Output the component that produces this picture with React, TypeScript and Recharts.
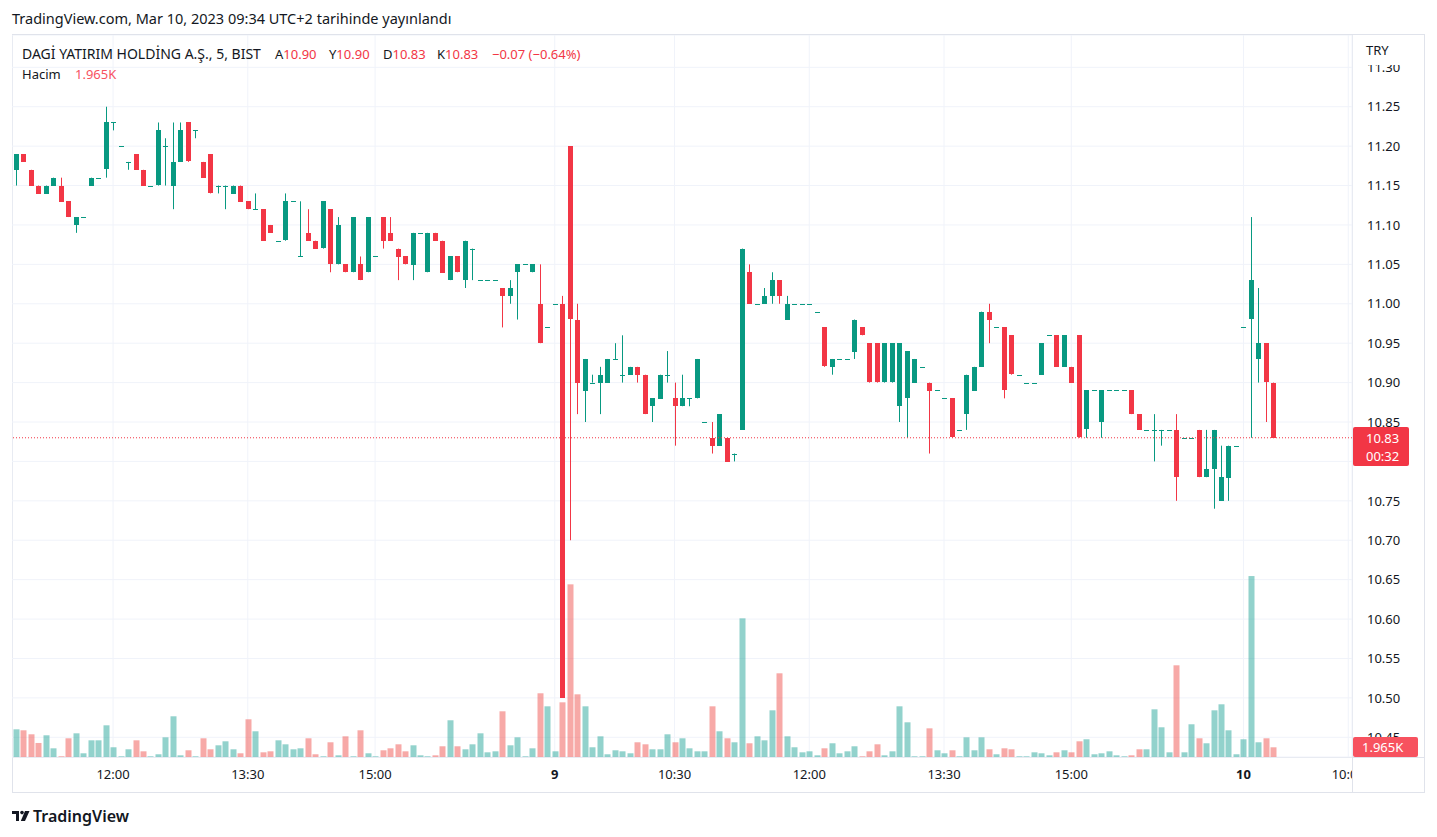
import React from 'react'
import { Bar, CartesianGrid, ComposedChart, ReferenceLine, XAxis, YAxis } from 'recharts'

// 5 dakikalik DAGI mumlari (8-10 Mart 2023)
const opens = [
  11.17, 11.19, 11.17, 11.15, 11.14, 11.15, 11.15, 11.13, 11.10, 11.11,
  11.15, 11.16, 11.17, 11.23, 11.20, 11.18, 11.19, 11.17, 11.15, 11.15,
  11.20, 11.15, 11.18, 11.23, 11.22, 11.18, 11.19, 11.15, 11.15, 11.14,
  11.15, 11.13, 11.12, 11.12, 11.10, 11.08, 11.08, 11.13, 11.06, 11.09,
  11.08, 11.07, 11.12, 11.05, 11.05, 11.04, 11.05, 11.04, 11.06, 11.11,
  11.09, 11.07, 11.06, 11.05, 11.09, 11.04, 11.09, 11.08, 11.03, 11.06,
  11.03, 11.07, 11.03, 11.03, 11.03, 11.02, 11.01, 11.04, 11.05, 11.04,
  11.00, 10.97, 11.00, 11.00, 11.20, 10.98, 10.89, 10.90, 10.90, 10.90,
  10.93, 10.91, 10.91, 10.92, 10.91, 10.87, 10.88, 10.91, 10.88, 10.87,
  10.88, 10.88, 10.85, 10.83, 10.82, 10.83, 10.81, 10.84, 11.04, 11.00,
  11.00, 11.01, 11.03, 10.98, 11.00, 11.00, 11.00, 10.99, 10.97, 10.92,
  10.93, 10.93, 10.94, 10.97, 10.95, 10.95, 10.90, 10.90, 10.87, 10.88,
  10.90, 10.92, 10.90, 10.89, 10.88, 10.88, 10.84, 10.86, 10.89, 10.92,
  10.99, 10.97, 10.97, 10.96, 10.91, 10.90, 10.90, 10.91, 10.96, 10.96,
  10.92, 10.92, 10.96, 10.84, 10.89, 10.85, 10.89, 10.89, 10.89, 10.89,
  10.86, 10.84, 10.84, 10.84, 10.84, 10.84, 10.83, 10.83, 10.84, 10.78,
  10.79, 10.75, 10.78, 10.82, 10.97, 10.98, 10.93, 10.95, 10.90,
]
const highs = [
  11.19, 11.19, 11.17, 11.15, 11.15, 11.16, 11.16, 11.13, 11.11, 11.11,
  11.16, 11.16, 11.25, 11.23, 11.20, 11.18, 11.19, 11.17, 11.15, 11.23,
  11.21, 11.23, 11.23, 11.23, 11.22, 11.18, 11.19, 11.15, 11.15, 11.15,
  11.15, 11.13, 11.14, 11.12, 11.10, 11.08, 11.14, 11.13, 11.13, 11.12,
  11.08, 11.13, 11.12, 11.11, 11.05, 11.11, 11.06, 11.11, 11.06, 11.11,
  11.11, 11.07, 11.06, 11.09, 11.09, 11.09, 11.09, 11.08, 11.06, 11.06,
  11.08, 11.07, 11.03, 11.03, 11.03, 11.02, 11.03, 11.05, 11.05, 11.05,
  11.05, 10.97, 11.00, 11.01, 11.20, 11.00, 10.93, 10.91, 10.92, 10.93,
  10.95, 10.96, 10.92, 10.92, 10.91, 10.88, 10.91, 10.94, 10.90, 10.91,
  10.88, 10.93, 10.85, 10.85, 10.86, 10.83, 10.81, 11.07, 11.05, 11.00,
  11.02, 11.04, 11.03, 11.01, 11.00, 11.00, 11.00, 10.99, 10.97, 10.93,
  10.93, 10.93, 10.98, 10.97, 10.95, 10.95, 10.95, 10.95, 10.95, 10.94,
  10.93, 10.92, 10.90, 10.89, 10.88, 10.88, 10.84, 10.91, 10.92, 10.99,
  11.00, 10.97, 10.97, 10.96, 10.91, 10.90, 10.90, 10.95, 10.96, 10.96,
  10.96, 10.92, 10.96, 10.89, 10.89, 10.89, 10.89, 10.89, 10.89, 10.89,
  10.86, 10.84, 10.86, 10.84, 10.84, 10.86, 10.83, 10.83, 10.84, 10.84,
  10.84, 10.82, 10.82, 10.82, 10.97, 11.11, 11.02, 10.95, 10.90,
]
const lows = [
  11.15, 11.18, 11.15, 11.14, 11.14, 11.15, 11.13, 11.11, 11.09, 11.11,
  11.15, 11.16, 11.16, 11.22, 11.20, 11.17, 11.17, 11.15, 11.15, 11.15,
  11.15, 11.12, 11.18, 11.18, 11.21, 11.16, 11.14, 11.14, 11.12, 11.14,
  11.13, 11.12, 11.12, 11.08, 11.09, 11.08, 11.08, 11.13, 11.06, 11.08,
  11.07, 11.07, 11.04, 11.05, 11.04, 11.04, 11.03, 11.04, 11.06, 11.07,
  11.08, 11.03, 11.05, 11.03, 11.09, 11.04, 11.08, 11.04, 11.03, 11.04,
  11.02, 11.03, 11.03, 11.03, 11.03, 10.97, 11.00, 10.98, 11.05, 11.04,
  10.95, 10.97, 11.00, 10.50, 10.70, 10.86, 10.85, 10.90, 10.86, 10.90,
  10.93, 10.90, 10.91, 10.90, 10.86, 10.85, 10.88, 10.90, 10.82, 10.87,
  10.87, 10.88, 10.85, 10.81, 10.82, 10.80, 10.80, 10.84, 11.00, 11.00,
  11.00, 11.00, 11.00, 10.98, 11.00, 11.00, 11.00, 10.99, 10.92, 10.91,
  10.93, 10.93, 10.93, 10.96, 10.90, 10.90, 10.90, 10.90, 10.85, 10.83,
  10.90, 10.92, 10.81, 10.89, 10.88, 10.83, 10.84, 10.84, 10.89, 10.92,
  10.95, 10.97, 10.88, 10.91, 10.91, 10.90, 10.90, 10.91, 10.96, 10.92,
  10.92, 10.90, 10.83, 10.83, 10.89, 10.83, 10.89, 10.89, 10.89, 10.86,
  10.84, 10.84, 10.80, 10.82, 10.84, 10.75, 10.83, 10.83, 10.78, 10.78,
  10.74, 10.75, 10.75, 10.82, 10.97, 10.83, 10.90, 10.85, 10.83,
]
const closes = [
  11.19, 11.18, 11.15, 11.14, 11.15, 11.16, 11.13, 11.11, 11.11, 11.11,
  11.16, 11.16, 11.23, 11.23, 11.20, 11.18, 11.17, 11.15, 11.15, 11.22,
  11.20, 11.18, 11.22, 11.18, 11.22, 11.16, 11.14, 11.15, 11.15, 11.15,
  11.13, 11.12, 11.12, 11.08, 11.09, 11.08, 11.13, 11.13, 11.06, 11.08,
  11.07, 11.13, 11.05, 11.10, 11.04, 11.11, 11.03, 11.11, 11.06, 11.08,
  11.08, 11.06, 11.05, 11.09, 11.09, 11.09, 11.08, 11.04, 11.06, 11.04,
  11.08, 11.07, 11.03, 11.03, 11.03, 11.01, 11.02, 11.05, 11.05, 11.05,
  10.95, 10.97, 11.00, 10.50, 10.98, 10.90, 10.93, 10.90, 10.91, 10.93,
  10.93, 10.91, 10.92, 10.91, 10.86, 10.88, 10.91, 10.91, 10.87, 10.88,
  10.88, 10.93, 10.85, 10.82, 10.86, 10.80, 10.81, 11.07, 11.00, 11.00,
  11.01, 11.03, 11.01, 11.00, 11.00, 11.00, 11.00, 10.99, 10.92, 10.93,
  10.93, 10.93, 10.98, 10.96, 10.90, 10.90, 10.95, 10.95, 10.95, 10.94,
  10.93, 10.92, 10.89, 10.89, 10.88, 10.83, 10.84, 10.91, 10.92, 10.99,
  10.98, 10.97, 10.89, 10.91, 10.91, 10.90, 10.90, 10.95, 10.96, 10.92,
  10.96, 10.90, 10.83, 10.89, 10.89, 10.89, 10.89, 10.89, 10.89, 10.86,
  10.84, 10.84, 10.84, 10.84, 10.84, 10.78, 10.83, 10.83, 10.78, 10.79,
  10.84, 10.78, 10.82, 10.82, 10.97, 11.03, 10.95, 10.90, 10.83,
]
const volumes = [
  5610, 5410, 4600, 2840, 4400, 1760, 140, 3790, 4800, 750,
  3380, 3380, 6420, 1970, 140, 1560, 3380, 1150, 140, 550,
  3990, 8250, 340, 1360, 140, 3790, 1560, 2370, 3180, 1560,
  750, 7640, 5210, 950, 1150, 3380, 2570, 1560, 1760, 3790,
  550, 140, 2980, 340, 4190, 140, 5410, 750, 140, 1360,
  1760, 2570, 1150, 2370, 340, 140, 340, 2170, 7440, 2170,
  1560, 2570, 4800, 950, 1150, 9260, 2370, 3990, 140, 1760,
  12910, 10270, 1150, 11080, 34990, 12700, 10270, 1970, 4190, 550,
  1360, 1150, 750, 2980, 2570, 1560, 1560, 4600, 2980, 3790,
  1760, 1150, 1150, 10270, 5210, 3790, 2980, 28100, 2780, 4190,
  3380, 9460, 16960, 4190, 1970, 950, 1150, 340, 1760, 2780,
  750, 1150, 2170, 140, 1150, 2570, 340, 1150, 10270, 7030,
  140, 140, 5810, 1360, 750, 1360, 140, 3990, 1360, 3990,
  1560, 550, 1760, 1560, 140, 140, 950, 750, 340, 950,
  1360, 950, 3180, 3590, 550, 750, 1150, 340, 140, 340,
  1560, 1560, 9660, 6020, 950, 18580, 950, 6630, 3790, 2780,
  9460, 10680, 5410, 550, 3590, 36670, 2980, 3790, 1965,
]

const timeLabels: { [k: number]: string } = {
  13: '12:00', 31: '13:30', 48: '15:00', 72: '9', 88: '10:30',
  106: '12:00', 124: '13:30', 141: '15:00', 164: '10', 178: '10:00',
}
const timeTicks = [13, 31, 48, 72, 88, 106, 124, 141, 164, 178]
const priceTicks = [
  10.45, 10.5, 10.55, 10.6, 10.65, 10.7, 10.75, 10.8, 10.85, 10.9,
  10.95, 11.0, 11.05, 11.1, 11.15, 11.2, 11.25, 11.3,
]
// son fiyat etiketinin altinda kalan ve gorunmeyen cizgi etiketi
const hiddenPriceLabels = [10.8]
const SLOTS = 179

const GREEN = '#089981'
const RED = '#F23645'
const VOL_UP = 'rgba(38,166,154,0.5)'
const VOL_DOWN = 'rgba(239,83,80,0.5)'
const TEXT = '#131722'
const LINE = '#E0E3EB'
const FONT = '"Noto Sans", "Open Sans", sans-serif'

const data: any[] = []
for (let i = 0; i < SLOTS; i++) {
  if (i < opens.length) {
    data.push({ i, o: opens[i], h: highs[i], l: lows[i], c: closes[i], v: volumes[i] })
  } else {
    data.push({ i })
  }
}
const volMax = Math.max(...volumes) * 3.99

const Candle = (props: any) => {
  const { x, y, width, height, payload } = props
  if (!payload || payload.o == null) return null
  const { o, h, l, c } = payload
  const color = c >= o ? GREEN : RED
  const cx = Math.round(x + width / 2)
  const top = Math.min(y, y + height)
  const hgt = Math.abs(height)
  const ppu = h > l ? hgt / (h - l) : 0
  const yo = top + (h - o) * ppu
  const yc = top + (h - c) * ppu
  const bodyTop = Math.round(Math.min(yo, yc))
  const bodyH = Math.max(1, Math.round(Math.abs(yc - yo)))
  return (
    <g>
      <line x1={cx + 0.5} x2={cx + 0.5} y1={top} y2={top + hgt} stroke={color} strokeWidth={1} />
      <rect x={cx - 2} y={bodyTop} width={5} height={bodyH} fill={color} />
    </g>
  )
}

const VolBar = (props: any) => {
  const { x, y, width, height, payload } = props
  if (!payload || payload.v == null) return null
  const cx = Math.round(x + width / 2)
  return (
    <rect x={cx - 2.5} y={y} width={6} height={Math.max(height, 0.7)}
      fill={payload.c >= payload.o ? VOL_UP : VOL_DOWN} />
  )
}

const TimeTick = (props: any) => {
  const { x, y, payload } = props
  const label = timeLabels[payload.value]
  if (!label) return null
  const bold = label === '9' || label === '10'
  return (
    <g>
      <clipPath id={'tc' + payload.value}>
        <rect x={0} y={y - 20} width={1340} height={40} />
      </clipPath>
      <text x={x} y={y} dy="0.71em" textAnchor="middle" fill={TEXT} fontSize={13}
        fontFamily={FONT} fontWeight={bold ? 700 : 400} clipPath={`url(#tc${payload.value})`}>
        {label}
      </text>
    </g>
  )
}

const PriceTick = (props: any) => {
  const { x, y, payload } = props
  if (hiddenPriceLabels.indexOf(payload.value) >= 0) return null
  return (
    <text x={x} y={y} dy="0.36em" textAnchor="start" fill={TEXT} fontSize={13} fontFamily={FONT}>
      {Number(payload.value).toFixed(2)}
    </text>
  )
}

const Logo = () => (
  <svg width={18} height={12} viewBox="0 0 18 12" style={{ display: 'block' }}>
    <path d="M0 1 H7 V11 H4 V4 H0 Z" fill={TEXT} />
    <circle cx={10} cy={2.6} r={1.8} fill={TEXT} />
    <path d="M13 1 H17.5 L13 11 H8.8 Z" fill={TEXT} />
  </svg>
)

const tok: React.CSSProperties = { position: 'absolute', top: 45, fontSize: 13, lineHeight: '18px', whiteSpace: 'nowrap' }

const App = () => {
  return (
    <div style={{ position: 'absolute', left: 0, top: 0, width: 1437, height: 837, background: '#fff', overflow: 'hidden', fontFamily: FONT, color: TEXT }}>
      <div style={{ position: 'absolute', left: 12, top: 8, fontSize: 14.5, lineHeight: '20px', whiteSpace: 'nowrap' }}>
        TradingView.com, Mar 10, 2023 09:34 UTC+2 tarihinde yayınlandı
      </div>

      {/* cerceve */}
      <div style={{ position: 'absolute', left: 12, top: 34, width: 1411, height: 757, border: `1px solid ${LINE}` }} />
      <div style={{ position: 'absolute', left: 1352, top: 35, width: 1, height: 757, background: LINE }} />
      <div style={{ position: 'absolute', left: 13, top: 757, width: 1411, height: 1, background: LINE }} />

      <div style={{ position: 'absolute', left: 12, top: 35 }}>
        <ComposedChart width={1412} height={757} data={data} margin={{ top: 0, right: 0, left: 0, bottom: 0 }}>
          <CartesianGrid xAxisId="main" yAxisId="price" stroke="#F0F3FA" />
          <XAxis xAxisId="main" dataKey="i" type="category" ticks={timeTicks} interval={0}
            axisLine={false} tickLine={false} tickSize={0} tickMargin={13} height={35} tick={<TimeTick />} />
          <XAxis xAxisId="vol" dataKey="i" type="category" hide />
          <YAxis yAxisId="price" orientation="right" type="number" domain={[10.425, 11.341]}
            ticks={priceTicks} allowDataOverflow width={72} axisLine={false} tickLine={false}
            tickSize={0} tickMargin={15} tick={<PriceTick />} />
          <YAxis yAxisId="vol" hide type="number" domain={[0, volMax]} allowDataOverflow />
          <Bar xAxisId="vol" yAxisId="vol" dataKey="v" shape={<VolBar />} isAnimationActive={false} />
          <ReferenceLine xAxisId="main" yAxisId="price" y={10.83} stroke={RED} strokeDasharray="1 2" />
          <Bar xAxisId="main" yAxisId="price" dataKey={(d: any) => (d.h == null ? null : [d.l, d.h])}
            shape={<Candle />} isAnimationActive={false} />
        </ComposedChart>
      </div>

      {/* lejand */}
      <div style={{ ...tok, left: 22, fontSize: 14 }}>DAGİ YATIRIM HOLDİNG A.Ş., 5, BIST</div>
      <div style={{ ...tok, left: 275 }}>A<span style={{ color: RED }}>10.90</span></div>
      <div style={{ ...tok, left: 329 }}>Y<span style={{ color: RED }}>10.90</span></div>
      <div style={{ ...tok, left: 383 }}>D<span style={{ color: RED }}>10.83</span></div>
      <div style={{ ...tok, left: 437 }}>K<span style={{ color: RED }}>10.83</span></div>
      <div style={{ ...tok, left: 492, color: RED }}>−0.07 (−0.64%)</div>
      <div style={{ ...tok, left: 22, top: 65 }}>Hacim</div>
      <div style={{ ...tok, left: 75, top: 65, color: '#F7525F' }}>1.965K</div>

      {/* fiyat ekseni etiketleri */}
      <div style={{ position: 'absolute', left: 1353, top: 35, width: 70, height: 30, background: '#fff' }} />
      <div style={{ position: 'absolute', left: 1366, top: 41, fontSize: 13, lineHeight: '18px' }}>TRY</div>
      <div style={{ position: 'absolute', left: 1353, top: 427, width: 56, height: 39, background: RED, borderRadius: 2, color: '#fff', fontSize: 13, lineHeight: '18px' }}>
        <div style={{ position: 'absolute', left: 13, top: 2 }}>10.83</div>
        <div style={{ position: 'absolute', left: 13, top: 20 }}>00:32</div>
      </div>
      <div style={{ position: 'absolute', left: 1353, top: 737, width: 65, height: 20, background: '#F7525F', borderRadius: 2, color: '#fff', fontSize: 13, lineHeight: '20px' }}>
        <div style={{ position: 'absolute', left: 9, top: 0 }}>1.965K</div>
      </div>

      {/* alt logo */}
      <div style={{ position: 'absolute', left: 12, top: 810 }}>
        <Logo />
      </div>
      <div style={{ position: 'absolute', left: 33, top: 805, fontSize: 16, lineHeight: '22px', fontWeight: 600 }}>
        TradingView
      </div>
    </div>
  )
}

export default App
